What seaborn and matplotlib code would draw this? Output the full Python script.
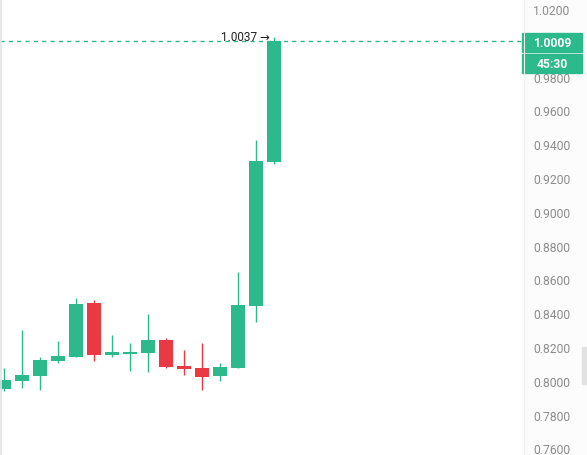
import numpy as np
import matplotlib
matplotlib.use("Agg")
import matplotlib.pyplot as plt
import matplotlib.transforms as mtransforms
from matplotlib.patches import Rectangle
from matplotlib.lines import Line2D
import seaborn as sns

# candle data (oldest -> newest)
opens = [0.7951, 0.8001, 0.8030, 0.8119, 0.8143, 0.8460, 0.8154, 0.8160,
         0.8166, 0.8241, 0.8088, 0.8076, 0.8030, 0.8078, 0.8444, 0.9295]
closes = [0.8005, 0.8034, 0.8123, 0.8147, 0.8454, 0.8154, 0.8172, 0.8172,
          0.8241, 0.8082, 0.8072, 0.8024, 0.8082, 0.8449, 0.9301, 1.0009]
highs = [0.8074, 0.8301, 0.8139, 0.8234, 0.8490, 0.8480, 0.8271, 0.8224,
         0.8395, 0.8253, 0.8184, 0.8224, 0.8105, 0.8644, 0.9425, 1.0037]
lows = [0.7941, 0.7956, 0.7947, 0.8104, 0.8140, 0.8119, 0.8139, 0.8060,
        0.8054, 0.8078, 0.8034, 0.7946, 0.7997, 0.8078, 0.8350, 0.9283]
price_ticks = [0.76, 0.78, 0.80, 0.82, 0.84, 0.86, 0.88, 0.90, 0.92, 0.94, 0.96, 0.98, 1.02]
last_price = 1.0009
max_price = 1.0037
countdown = "45:30"

green = "#2cba8c"
red = "#ea3943"

sns.set_theme(style="white")
plt.rcParams["font.family"] = ["Roboto", "DejaVu Sans"]

W, H = 587, 456
fig = plt.figure(figsize=(W / 100, H / 100), dpi=100, facecolor="#fcfcfc")
ax = fig.add_axes([0, 0, 523 / W, 1])
ax.set_facecolor("white")

idx = np.arange(len(opens))
o = np.array(opens); c = np.array(closes)
colors = [green if cc >= oo else red for oo, cc in zip(o, c)]
body_bottom = np.minimum(o, c)
body_h = np.maximum(np.abs(c - o), 0.0012)

ax.vlines(idx, lows, highs, colors=colors, lw=1.0, zorder=2)
ax.bar(idx, body_h, bottom=body_bottom, width=0.78, color=colors, lw=0, zorder=3)

# last price line
ax.axhline(last_price, color=green, lw=1.0, ls=(0, (3, 3)), zorder=1)

ax.annotate("1.0037 \u2192", xy=(idx[-1], max_price), xytext=(-2.7, 0),
            textcoords="offset points", ha="right", va="center",
            fontsize=8.5, color="#222222")

ax.set_xlim(-0.206, 28.85)
ax.set_ylim(0.7561, 1.0259)
ax.set_yticks(price_ticks)
ax.set_yticklabels([f"{t:.4f}" for t in price_ticks])
ax.yaxis.tick_right()
ax.tick_params(axis="y", length=0, pad=7.2, labelsize=8.7, labelcolor="#8c8c8c")
ax.set_xticks([])
for s in ax.spines.values():
    s.set_visible(False)

# price label boxes on the axis panel
trans = mtransforms.blended_transform_factory(fig.transFigure, ax.transData)
bx0, bw = 522 / W, 60 / W
bh = 19 / 1690
ax.add_patch(Rectangle((bx0, last_price - bh / 2 - 0.0007), bw, bh, transform=trans,
                       color=green, clip_on=False, zorder=6))
ax.add_patch(Rectangle((bx0, last_price - bh / 2 - 0.0007 - 0.0124), bw, bh, transform=trans,
                       color=green, clip_on=False, zorder=6))
ax.text(bx0 + bw / 2, last_price - 0.0007, f"{last_price:.4f}", transform=trans,
        ha="center", va="center", color="white", fontsize=8.7, fontweight="bold",
        clip_on=False, zorder=7)
ax.text(bx0 + bw / 2, last_price - 0.0007 - 0.0124, countdown, transform=trans,
        ha="center", va="center", color="white", fontsize=8.7, fontweight="bold",
        clip_on=False, zorder=7)

# panel separator, left border, right scroll handle
fig.add_artist(Line2D([523.5 / W] * 2, [0, 1], color="#f0f0f0", lw=0.8))
fig.add_artist(Line2D([0.8 / W] * 2, [0, 1], color="#e4e4e4", lw=1.2))
fig.add_artist(Rectangle((582 / W, 1 - 385 / H), 5 / W, 37 / H, color="#e2e2e2", zorder=5))

fig.savefig("out.png", dpi=100, facecolor=fig.get_facecolor())
